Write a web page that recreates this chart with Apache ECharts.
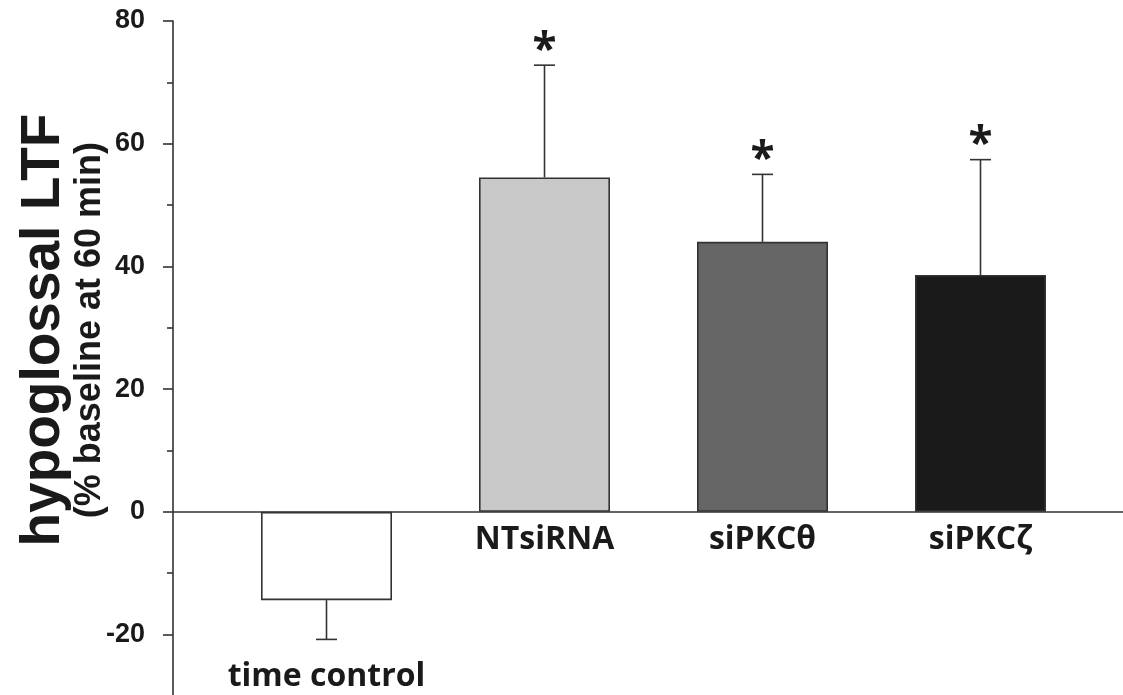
<!DOCTYPE html>
<html>
<head>
<meta charset="utf-8">
<title>hypoglossal LTF</title>
<script src="https://cdn.jsdelivr.net/npm/echarts@6/dist/echarts.min.js"></script>
<style>
html, body { margin: 0; padding: 0; background: #fff; }
#container { width: 1123px; height: 695px; }
</style>
</head>
<body>
<div id="container"></div>
<script>
// groups
var categories = ['time control', 'NTsiRNA', 'siPKCθ', 'siPKCζ'];
// mean LTF (% baseline at 60 min)
var means = [-14.4, 54.5, 44.0, 38.6];
// SEM, drawn one-sided away from zero
var sems = [6.4, 18.3, 11.0, 18.8];
// significance marks (1 = *)
var signif = [0, 1, 1, 1];
var barColors = ['#ffffff', '#c8c8c8', '#666666', '#1a1a1a'];
// y axis ticks
var yMin = -40, yMax = 80, yStep = 20;

var ink = '#1a1a1a';
var lineCol = '#333333';

var dom = document.getElementById('container');
var myChart = echarts.init(dom);

// bar data with per-group fill
var barData = [];
for (var i = 0; i < means.length; i++) {
	barData.push({ value: means[i], itemStyle: { color: barColors[i] } });
}
// error bar data: [index, mean, end, sig]
var errData = [];
for (var j = 0; j < means.length; j++) {
	var end = means[j] >= 0 ? means[j] + sems[j] : means[j] - sems[j];
	errData.push([j, means[j], end, signif[j]]);
}

function renderErr(params, api) {
	var x = api.value(0);
	var p0 = api.coord([x, api.value(1)]);
	var p1 = api.coord([x, api.value(2)]);
	var half = 10.5;
	var st = { stroke: lineCol, lineWidth: 1.6 };
	var kids = [
		{ type: 'line', shape: { x1: p0[0], y1: p0[1], x2: p1[0], y2: p1[1] }, style: st },
		{ type: 'line', shape: { x1: p1[0] - half, y1: p1[1], x2: p1[0] + half, y2: p1[1] }, style: st }
	];
	if (api.value(3)) {
		kids.push({
			type: 'text', x: p1[0], y: p1[1] - 14,
			style: {
				text: '*', fill: ink, fontSize: 44, fontWeight: 'bold',
				fontFamily: 'Open Sans', align: 'center', verticalAlign: 'middle'
			}
		});
	}
	return { type: 'group', children: kids };
}

// grid height 736.2 px for 120 units; zero sits 245.5 px above the grid bottom
var option = {
	backgroundColor: '#ffffff',
	animation: false,
	grid: [
		{ left: 217.5, top: 21, width: 872, height: 736.2, outerBoundsMode: 'none', containLabel: false },
		{ left: 173, top: 21, right: 0, height: 736.2, outerBoundsMode: 'none', containLabel: false }
	],
	xAxis: [{
		type: 'category',
		gridIndex: 0,
		position: 'bottom',
		offset: -245.5,
		data: categories,
		axisLine: { show: false, onZero: false },
		axisTick: { show: false },
		axisLabel: {
			interval: 0,
			hideOverlap: false,
			margin: 12,
			color: ink,
			fontSize: 32,
			fontWeight: 'bold',
			fontFamily: 'Open Sans',
			formatter: function(v, idx) {
				return means[idx] < 0 ? '{lo|' + v + '}' : v;
			},
			rich: {
				lo: { padding: [137, 0, 0, 0], color: ink, fontSize: 32, fontWeight: 'bold', fontFamily: 'Open Sans' }
			}
		}
	}, {
		// zero line across the full width
		type: 'value',
		gridIndex: 1,
		min: 0,
		max: 1,
		axisLine: { show: true, onZero: true, lineStyle: { color: lineCol, width: 1.6 } },
		axisTick: { show: false },
		axisLabel: { show: false },
		splitLine: { show: false }
	}],
	yAxis: [{
		type: 'value',
		gridIndex: 0,
		offset: 44.5,
		min: yMin,
		max: yMax,
		interval: yStep,
		name: '{a|hypoglossal LTF}\n{b|(% baseline at 60 min)}',
		nameLocation: 'middle',
		nameRotate: 90,
		nameGap: 66,
		nameMoveOverlap: false,
		nameTextStyle: {
			padding: [0, 0, 0, 118],
			rich: {
				a: { fontSize: 55, fontWeight: 'bold', fontFamily: 'Liberation Sans', color: ink, lineHeight: 58 },
				b: { fontSize: 36, fontWeight: 'bold', fontFamily: 'Liberation Sans', color: ink, lineHeight: 34 }
			}
		},
		axisLine: { show: true, lineStyle: { color: lineCol, width: 1.6 } },
		axisTick: { show: true, length: 10, lineStyle: { color: lineCol, width: 1.6 } },
		minorTick: { show: true, splitNumber: 2, length: 6, lineStyle: { color: lineCol, width: 1.6 } },
		axisLabel: {
			margin: 28,
			color: ink,
			fontSize: 27,
			fontWeight: 'bold',
			fontFamily: 'Liberation Sans'
		},
		splitLine: { show: false }
	}, {
		type: 'value',
		gridIndex: 1,
		min: yMin,
		max: yMax,
		show: false
	}],
	series: [{
		type: 'bar',
		xAxisIndex: 0,
		yAxisIndex: 0,
		data: barData,
		barWidth: 131,
		itemStyle: { borderColor: lineCol, borderWidth: 1.6 }
	}, {
		type: 'custom',
		xAxisIndex: 0,
		yAxisIndex: 0,
		data: errData,
		renderItem: renderErr,
		z: 5
	}]
};
myChart.setOption(option);
</script>
</body>
</html>
